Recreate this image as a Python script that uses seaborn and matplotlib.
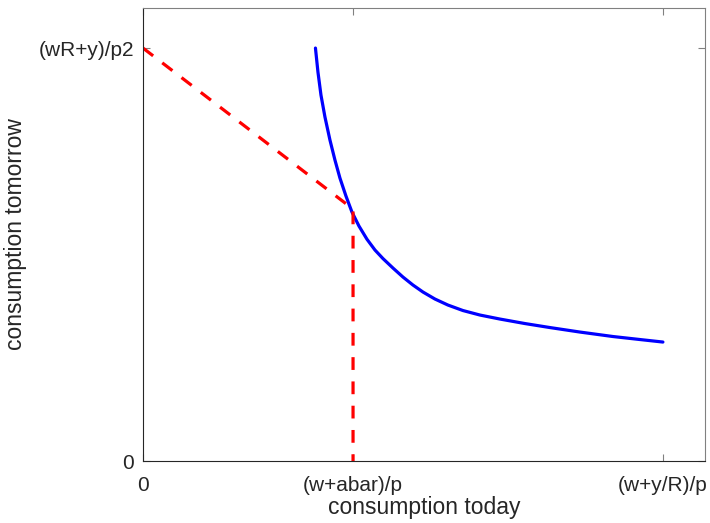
import matplotlib
matplotlib.use("Agg")
import matplotlib.pyplot as plt
import seaborn as sns

# Data (normalized units)
x_ticks = [0.0, 0.404, 1.0]
x_ticklabels = ["0", "(w+abar)/p", "(w+y/R)/p"]
y_ticks = [0.0, 1.0]
y_ticklabels = ["0", "(wR+y)/p2"]

curve_x = [0.3317, 0.3365, 0.3423, 0.3500, 0.3596, 0.3692, 0.3788, 0.3904,
           0.4019, 0.4154, 0.4308, 0.4462, 0.4615, 0.4808, 0.5000, 0.5192,
           0.5385, 0.5615, 0.5865, 0.6154, 0.6481, 0.6865, 0.7346, 0.7827,
           0.8404, 0.9038, 0.9558, 1.0000]
curve_y = [1.0000, 0.9419, 0.8862, 0.8329, 0.7772, 0.7288, 0.6852, 0.6416,
           0.6029, 0.5690, 0.5370, 0.5109, 0.4903, 0.4673, 0.4455, 0.4262,
           0.4092, 0.3923, 0.3777, 0.3644, 0.3535, 0.3438, 0.3329, 0.3232,
           0.3123, 0.3015, 0.2942, 0.2881]

budget_x = [0.0, 0.404, 0.404]
budget_y = [1.0, 0.61, 0.0]

sns.set_style("white")
plt.rcParams['font.family'] = ['Liberation Sans', 'DejaVu Sans']

fig = plt.figure(figsize=(7.10, 5.23), dpi=100)
ax = fig.add_axes([0.2014, 0.1185, 0.7916, 0.8662])

sns.lineplot(x=curve_x, y=curve_y, ax=ax, color="#0000ff", linewidth=2.3,
             sort=False, estimator=None)
ax.lines[-1].set_solid_joinstyle("round")
sns.lineplot(x=budget_x, y=budget_y, ax=ax, color="#ff0000", linewidth=2.3,
             sort=False, estimator=None)
ax.lines[-1].set_linestyle((0, (4.0, 3.6)))

ax.set_xlim(0, 1.081)
ax.set_ylim(0, 1.097)
ax.set_xticks(x_ticks)
ax.set_xticklabels(x_ticklabels)
ax.set_yticks(y_ticks)
ax.set_yticklabels(y_ticklabels)

for s in ax.spines.values():
    s.set_visible(True)
    s.set_color("#262626")
    s.set_linewidth(0.8)
ax.spines['top'].set_color("#808080")
ax.spines['right'].set_color("#808080")

ax.tick_params(direction="in", length=5, width=0.8, colors="#808080",
               labelcolor="#262626", labelsize=15, top=True, right=True,
               left=True, bottom=True)
ax.tick_params(axis="x", pad=11)
ax.tick_params(axis="y", pad=6.5)

ax.set_xlabel("consumption today", fontsize=16.5, color="#262626", labelpad=0.5)
ax.set_ylabel("consumption tomorrow", fontsize=16.5, color="#262626", labelpad=8.5)
ax.grid(False)

fig.savefig("out.png", dpi=100)
